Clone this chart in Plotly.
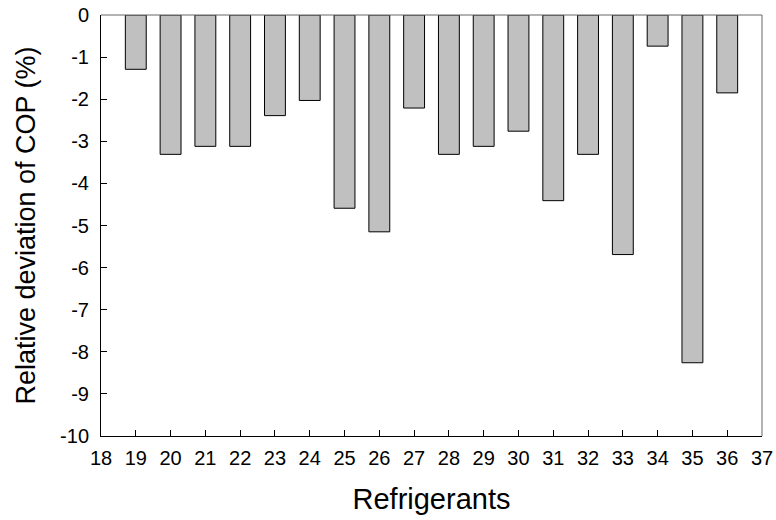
import plotly.graph_objects as go

refrigerants = list(range(19, 37))
cop_deviation = [-1.29, -3.31, -3.12, -3.12, -2.39, -2.03, -4.59, -5.15, -2.21,
                 -3.31, -3.12, -2.76, -4.41, -3.31, -5.69, -0.74, -8.26, -1.85]
x_ticks = list(range(18, 38))
y_ticks = list(range(-10, 1))

fig = go.Figure()
fig.add_trace(go.Bar(
    x=refrigerants, y=cop_deviation, width=0.6,
    marker=dict(color="#C0C0C0", line=dict(color="black", width=1)),
))

font = "Arial, Liberation Sans, sans-serif"
fig.update_layout(
    width=776, height=520,
    margin=dict(l=101, r=14, t=15, b=84, autoexpand=False),
    plot_bgcolor="white", paper_bgcolor="white",
    showlegend=False,
    font=dict(family=font, color="black"),
    xaxis=dict(range=[18, 37], tickmode="array", tickvals=x_ticks,
               ticktext=[str(v) for v in x_ticks], automargin=False,
               ticks="inside", ticklen=6, tickcolor="black", showgrid=False,
               zeroline=False, showline=True, linecolor="black", linewidth=1,
               tickfont=dict(size=20), ticklabelstandoff=4,
               title=dict(text="Refrigerants", font=dict(size=29), standoff=20)),
    yaxis=dict(range=[-10, 0], tickmode="array", tickvals=y_ticks,
               ticktext=[str(v) for v in y_ticks], automargin=False,
               ticks="inside", ticklen=6, tickcolor="black", showgrid=False,
               zeroline=False, showline=True, linecolor="black", linewidth=1,
               tickfont=dict(size=20), ticklabelstandoff=7,
               title=dict(text="Relative deviation of COP (%)", font=dict(size=27), standoff=16)),
)
# top and right frame lines (gray)
fig.add_shape(type="line", xref="paper", yref="paper", x0=0, x1=1, y0=1, y1=1,
              line=dict(color="#666666", width=1))
fig.add_shape(type="line", xref="paper", yref="paper", x0=1, x1=1, y0=0, y1=1,
              line=dict(color="#666666", width=1))

fig.write_html("out.html")
